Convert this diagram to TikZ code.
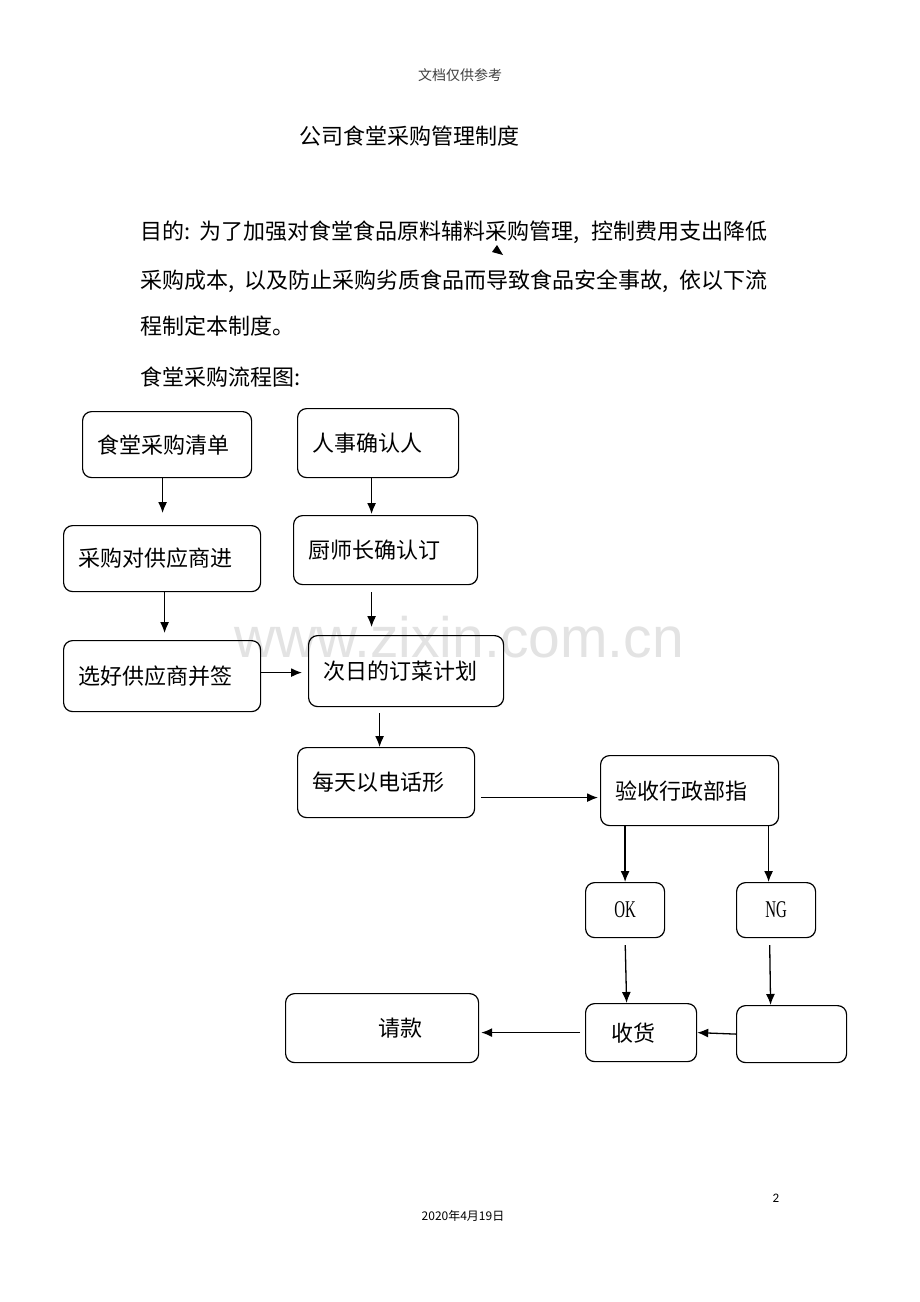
\documentclass[tikz,border=0pt]{standalone}
\usepackage{fontspec}
\usepackage{tikz}
\usepackage{xcolor}
\setmainfont{Noto Sans CJK SC}
\newfontfamily\latinserif{Liberation Serif}
\newfontfamily\calib{Carlito}
\newfontfamily\wmfont{Liberation Sans}
\usetikzlibrary{calc,
	positioning,
	shapes,
	arrows.meta}
\newcommand{\bigtext}{\fontsize{22}{26}\selectfont}
\tikzstyle{box}=[draw, rounded corners=9pt, line width=1.2pt, inner xsep=15pt,
		inner ysep=0, align=left, anchor=north west, font=\bigtext]
\tikzstyle{smallbox}=[draw, rounded corners=9pt, line width=1.2pt, inner sep=0,
		anchor=north west]
\tikzstyle{line}=[line width=1.3pt, -{Latex[length=11pt, width=9pt]}]
\tikzstyle{para}=[anchor=west, inner sep=0, font=\bigtext]

\begin{document}
\begin{tikzpicture}[x=1pt, y=-1pt]
        \useasboundingbox (0,0) rectangle (920,1302);
        \fill[white] (0,0) rectangle (920,1302);
        \node[text=gray!22, font=\wmfont\fontsize{57}{60}\selectfont, anchor=base, inner sep=0] (mark) at (459,657) {www.zixin.com.cn};
        \node[text=black!75, font=\fontsize{14}{16}\selectfont] (head) at (460,75) {文档仅供参考};
        \node[font=\bigtext] (title) at (409,136) {公司食堂采购管理制度};
        \node[para] (line1) at (140,232) {\makebox[627pt][s]{目的:\hspace{0pt plus 1fil}为了加强对食堂食品原料辅料采购管理,\hspace{2pt plus 1fil}控制费用支出降低}};
        \node[para] (line2) at (140,281) {\makebox[627pt][s]{采购成本, 以及防止采购劣质食品而导致食品安全事故, 依以下流}};
        \node[para] (line3) at (140,326) {程制定本制度。};
        \node[para] (line4) at (140,377) {食堂采购流程图:};
        \fill (497,245) -- (492,252) -- (503,255) -- cycle;

        \node[box, text width=139pt, minimum height=66pt] (list) at (82,411) {食堂采购清单};
        \node[box, text width=131pt, minimum height=69pt] (hr) at (297,408) {人事确认人};
        \node[box, text width=167pt, minimum height=66pt] (talk) at (63,525) {采购对供应商进};
        \node[box, text width=154pt, minimum height=69pt] (chef) at (293,515) {厨师长确认订};
        \node[box, text width=167pt, minimum height=71pt] (sign) at (63,640) {选好供应商并签};
        \node[box, text width=165pt, minimum height=71pt] (plan) at (308,635) {次日的订菜计划};
        \node[box, text width=147pt, minimum height=70pt] (phone) at (297,747) {每天以电话形};
        \node[box, text width=148pt, minimum height=70pt] (check) at (600,755) {验收行政部指};
        \node[smallbox, minimum width=79pt, minimum height=55pt, font=\latinserif\fontsize{24}{26}\selectfont] (ok) at (585,882) {\scalebox{0.62}[1]{OK}};
        \node[smallbox, minimum width=79pt, minimum height=55pt, font=\latinserif\fontsize{24}{26}\selectfont] (ng) at (736,882) {\scalebox{0.62}[1]{NG}};
        \node[box, text width=163pt, minimum height=69pt] (pay) at (285,993) {\hspace*{78pt}请款};
        \node[box, text width=81pt, minimum height=58pt] (recv) at (585,1003) {\hspace*{11pt}收货};
        \node[smallbox, minimum width=110pt, minimum height=57pt] (back) at (736,1005) {};

        \draw[line, shorten >=12pt] ([xshift=-4.5pt]list.south) -- ([xshift=-4.5pt]list.south |- talk.north);
        \draw[line, shorten >=1pt] ([xshift=-6.5pt]hr.south) -- ([xshift=-6.5pt]hr.south |- chef.north);
        \draw[line, shorten >=7pt] ([xshift=2.5pt]talk.south) -- ([xshift=2.5pt]talk.south |- sign.north);
        \draw[line, shorten <=7pt, shorten >=8pt] ([xshift=-14pt]chef.south) -- ([xshift=-14pt]chef.south |- plan.north);
        \draw[line, shorten >=6pt] ([yshift=3.5pt]sign.east) -- ([yshift=3.5pt]sign.east -| plan.west);
        \draw[line, shorten <=6pt] ([xshift=-26.5pt]plan.south) -- ([xshift=-26.5pt]plan.south |- phone.north);
        \draw[line, shorten <=6pt, shorten >=2pt] ([yshift=-15pt]phone.east) -- ([yshift=-15pt]phone.east -| check.west);
        \draw[line] (ok.north |- check.south) -- (ok.north);
        \draw[line] ([xshift=-7.5pt]ng.north |- check.south) -- ([xshift=-7.5pt]ng.north);
        \draw[line, shorten <=7pt] (ok.south) -- ([xshift=-14.5pt]recv.north);
        \draw[line, shorten <=7pt] ([xshift=-6.5pt]ng.south) -- ([xshift=-21pt]back.north);
        \draw[line] (back.west) -- (recv.east);
        \draw[line, shorten <=5pt, shorten >=2pt] (recv.west) -- (recv.west -| pay.east);

        \node[font=\calib\fontsize{13}{15}\selectfont] (page) at (776,1198) {2};
        \node[font=\fontsize{12}{14}\selectfont] (date) at (463,1216) {2020年4月19日};
    \end{tikzpicture}
\end{document}
